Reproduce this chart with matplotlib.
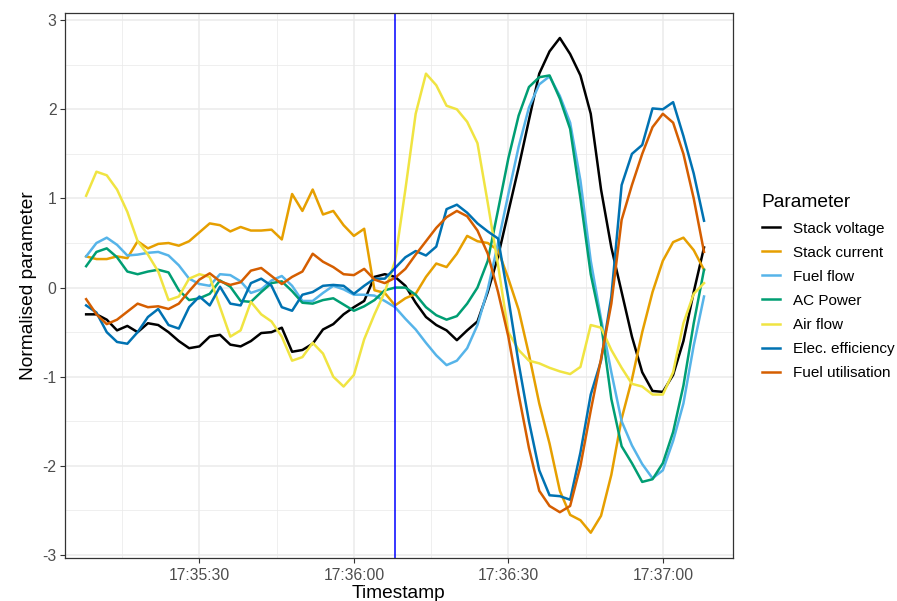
#!/usr/bin/env python
# -*- coding: utf-8 -*-
"""
plot.py
-------
Normalised fuel cell parameters over time, with the event marked by a vertical line.
Saves out.png
"""
##########
# IMPORT #
##########

import matplotlib
matplotlib.use('Agg')
from matplotlib import pyplot as plt
import matplotlib.dates as mdates
from matplotlib.ticker import MultipleLocator
import pandas as pd


########
# DATA #
########

# one sample every 2 s from 17:35:08 to 17:37:08
timestamps = pd.date_range('2021-01-01 17:35:08', periods=61, freq='2s')
event_time = pd.Timestamp('2021-01-01 17:36:08')

stack_voltage = [-0.30, -0.30, -0.36, -0.48, -0.43, -0.50, -0.40, -0.42, -0.50, -0.60,
                 -0.68, -0.66, -0.55, -0.53, -0.64, -0.66, -0.60, -0.51, -0.50, -0.45,
                 -0.72, -0.70, -0.63, -0.47, -0.41, -0.30, -0.22, -0.15, 0.12, 0.15,
                 0.12, 0.02, -0.17, -0.33, -0.42, -0.48, -0.59, -0.48, -0.38, -0.05,
                 0.35, 0.85, 1.35, 1.88, 2.40, 2.65, 2.80, 2.62, 2.38, 1.95,
                 1.10, 0.45, -0.05, -0.55, -0.95, -1.16, -1.17, -0.98, -0.60, -0.05,
                 0.45]

stack_current = [0.35, 0.32, 0.32, 0.35, 0.33, 0.52, 0.44, 0.49, 0.50, 0.47,
                 0.52, 0.62, 0.72, 0.70, 0.63, 0.68, 0.64, 0.64, 0.65, 0.54,
                 1.05, 0.86, 1.10, 0.82, 0.86, 0.70, 0.58, 0.66, -0.03, -0.06,
                 -0.20, -0.12, -0.07, 0.12, 0.27, 0.23, 0.38, 0.58, 0.52, 0.50,
                 0.42, 0.10, -0.25, -0.75, -1.30, -1.75, -2.28, -2.55, -2.61, -2.75,
                 -2.56, -2.10, -1.47, -1.03, -0.50, -0.05, 0.30, 0.51, 0.56, 0.42,
                 0.20]

fuel_flow = [0.35, 0.50, 0.56, 0.48, 0.36, 0.37, 0.39, 0.40, 0.36, 0.25,
             0.10, 0.04, 0.02, 0.15, 0.14, 0.07, -0.06, -0.02, 0.08, 0.13,
             0.02, -0.15, -0.15, -0.06, 0.02, -0.02, -0.08, -0.08, -0.09, -0.15,
             -0.22, -0.35, -0.47, -0.62, -0.76, -0.87, -0.82, -0.68, -0.42, -0.02,
             0.50, 1.05, 1.58, 2.02, 2.28, 2.37, 2.15, 1.85, 1.20, 0.30,
             -0.35, -0.95, -1.50, -1.77, -1.98, -2.14, -2.05, -1.72, -1.30, -0.65,
             -0.10]

ac_power = [0.24, 0.40, 0.44, 0.34, 0.18, 0.15, 0.18, 0.20, 0.17, -0.03,
            -0.14, -0.12, -0.07, 0.08, 0.01, -0.15, -0.16, -0.05, 0.05, 0.07,
            -0.04, -0.17, -0.18, -0.14, -0.12, -0.19, -0.26, -0.21, -0.14, -0.03,
            0.00, 0.00, -0.08, -0.22, -0.31, -0.36, -0.32, -0.18, 0.00, 0.30,
            0.87, 1.45, 1.93, 2.25, 2.36, 2.38, 2.12, 1.78, 1.00, 0.15,
            -0.40, -1.25, -1.78, -1.97, -2.18, -2.15, -1.97, -1.62, -1.10, -0.40,
            0.20]

air_flow = [1.03, 1.30, 1.26, 1.10, 0.85, 0.52, 0.37, 0.18, -0.14, -0.10,
            0.10, 0.15, 0.12, -0.22, -0.55, -0.48, -0.16, -0.30, -0.38, -0.55,
            -0.82, -0.78, -0.62, -0.74, -1.00, -1.11, -0.98, -0.58, -0.30, -0.05,
            0.30, 1.10, 1.95, 2.40, 2.27, 2.04, 2.00, 1.86, 1.62, 0.95,
            0.25, -0.50, -0.70, -0.82, -0.85, -0.90, -0.94, -0.97, -0.89, -0.42,
            -0.45, -0.70, -0.90, -1.08, -1.11, -1.20, -1.20, -0.95, -0.40, -0.07,
            0.05]

elec_efficiency = [-0.20, -0.28, -0.50, -0.61, -0.63, -0.50, -0.33, -0.24, -0.42, -0.46,
                   -0.22, -0.10, -0.20, 0.01, -0.18, -0.20, 0.05, 0.10, 0.02, -0.22,
                   -0.26, -0.08, -0.05, 0.02, 0.03, 0.02, -0.07, 0.02, 0.10, 0.10,
                   0.22, 0.34, 0.41, 0.36, 0.46, 0.88, 0.93, 0.84, 0.72, 0.63,
                   0.55, -0.12, -0.85, -1.50, -2.05, -2.33, -2.34, -2.38, -1.85, -1.20,
                   -0.82, -0.10, 1.15, 1.50, 1.60, 2.01, 2.00, 2.08, 1.70, 1.28,
                   0.75]

fuel_utilisation = [-0.13, -0.30, -0.41, -0.36, -0.27, -0.18, -0.22, -0.21, -0.24, -0.18,
                    -0.04, 0.09, 0.16, 0.07, 0.03, 0.06, 0.19, 0.22, 0.13, 0.04,
                    0.12, 0.18, 0.38, 0.29, 0.23, 0.15, 0.14, 0.21, 0.09, 0.05,
                    0.11, 0.21, 0.37, 0.52, 0.67, 0.79, 0.86, 0.80, 0.64, 0.38,
                    -0.05, -0.55, -1.20, -1.80, -2.28, -2.45, -2.52, -2.45, -2.00, -1.38,
                    -0.80, -0.18, 0.76, 1.15, 1.50, 1.80, 1.95, 1.85, 1.50, 1.00,
                    0.40]

series_names = ['Stack voltage', 'Stack current', 'Fuel flow', 'AC Power',
                'Air flow', 'Elec. efficiency', 'Fuel utilisation']
series_values = [stack_voltage, stack_current, fuel_flow, ac_power,
                 air_flow, elec_efficiency, fuel_utilisation]
# colour blind friendly palette
series_colours = ['#000000', '#E69F00', '#56B4E9', '#009E73',
                  '#F0E442', '#0072B2', '#D55E00']


########
# PLOT #
########

plt.rcParams['font.family'] = ['Liberation Sans', 'DejaVu Sans']
plt.rcParams['axes.unicode_minus'] = False

fig = plt.figure(figsize=(8.97, 6.01), dpi=100)
ax = fig.add_axes([0.0725, 0.0715, 0.7445, 0.9065])

# grey theme grid
ax.set_axisbelow(True)
ax.grid(which='major', color='#EBEBEB', linewidth=1.1)
ax.grid(which='minor', color='#EBEBEB', linewidth=0.55)

for name, values, colour in zip(series_names, series_values, series_colours):
    ax.plot(timestamps, values, color=colour, linewidth=1.8, label=name)

ax.axvline(event_time, color='#0000FF', linewidth=1.1)

ax.set_xlim(pd.Timestamp('2021-01-01 17:35:03.9'), pd.Timestamp('2021-01-01 17:37:13.6'))
ax.set_ylim(-3.034, 3.078)

ax.xaxis.set_major_locator(mdates.SecondLocator(bysecond=[0, 30]))
ax.xaxis.set_minor_locator(mdates.SecondLocator(bysecond=[15, 45]))
ax.xaxis.set_major_formatter(mdates.DateFormatter('%H:%M:%S'))
ax.yaxis.set_major_locator(MultipleLocator(1))
ax.yaxis.set_minor_locator(MultipleLocator(0.5))

ax.tick_params(which='major', length=3.5, width=0.8, color='#333333',
               labelsize=11.3, labelcolor='#4D4D4D')
ax.tick_params(axis='x', which='major', pad=4)
ax.tick_params(axis='y', which='major', pad=2.5)
ax.tick_params(which='minor', length=0)

for spine in ax.spines.values():
    spine.set_color('#333333')
    spine.set_linewidth(0.9)

# x title sits right at the bottom edge, as in the original
ax.set_xlabel('Timestamp', fontsize=13.8, labelpad=1)
ax.set_ylabel('Normalised parameter', fontsize=13.8, labelpad=4)

leg = ax.legend(title='Parameter', loc='center left', bbox_to_anchor=(0.8405, 0.522),
                bbox_transform=fig.transFigure, frameon=False, fontsize=11,
                title_fontsize=13.8, handlelength=1.2, handletextpad=0.85,
                labelspacing=0.66, borderpad=0)
leg._legend_box.align = 'left'

plt.savefig('out.png', dpi=100)
